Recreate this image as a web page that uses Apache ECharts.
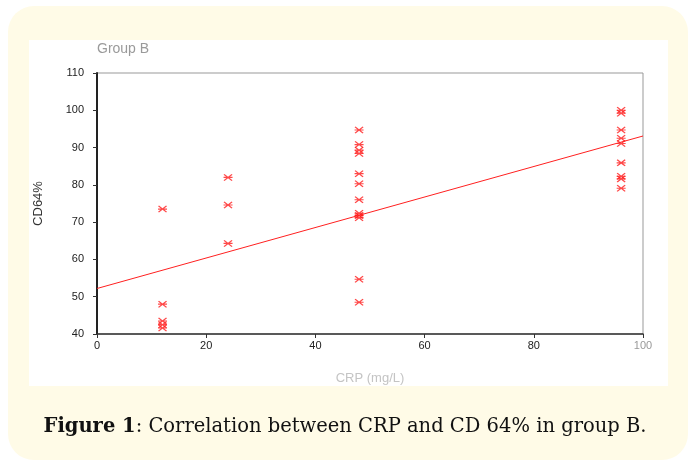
<!DOCTYPE html>
<html>
<head>
<meta charset="utf-8">
<script src="https://cdn.jsdelivr.net/npm/echarts@6/dist/echarts.min.js"></script>
<style>
  html, body { margin: 0; padding: 0; background: #fff; }
  #main { width: 690px; height: 461px; }
</style>
</head>
<body>
<div id="main"></div>
<script>
// CRP (mg/L) vs CD64% values
const crp = [12, 12, 12, 12, 12,
  24, 24, 24,
  48, 48, 48, 48, 48, 48, 48, 48, 48, 48, 48, 48,
  96, 96, 96, 96, 96, 96, 96, 96, 96];
const cd64 = [73.5, 48, 43.5, 42.5, 41.6,
  82, 74.6, 64.3,
  94.7, 90.8, 89.3, 88.4, 83, 80.3, 76, 72.4, 71.8, 71.2, 54.7, 48.5,
  100, 99.2, 94.7, 92.5, 91.1, 85.9, 82.3, 81.6, 79.1];
const fitX = [0, 100];
const fitY = [52.2, 93.1];

const points = crp.map((x, i) => [x, cd64[i]]);
const fitLine = fitX.map((x, i) => [x, fitY[i]]);

// asterisk: X plus a horizontal bar
const star = 'path://M0 4.2L10 4.2L10 5.8L0 5.8Z M1.1 0L5 3.9L8.9 0L10 1.1L6.1 5L10 8.9L8.9 10L5 6.1L1.1 10L0 8.9L3.9 5L0 1.1Z';

var myChart = echarts.init(document.getElementById('main'), null, {
  width: 690,
  height: 461,
});

let option = {
  animation: false,
  backgroundColor: '#fff',
  graphic: [
    {
      type: 'rect',
      z: -10,
      shape: { x: 8, y: 6, width: 680, height: 454, r: 26 },
      style: { fill: '#fffbe7' },
    },
    {
      type: 'rect',
      z: -9,
      shape: { x: 29, y: 40, width: 639, height: 346 },
      style: { fill: '#ffffff' },
    },
    {
      type: 'text',
      left: 97,
      top: 42,
      style: {
        text: 'Group B',
        fill: '#9a9a9a',
        font: '14px Arial, "Liberation Sans", sans-serif',
      },
    },
    {
      type: 'text',
      left: 'center',
      top: 417,
      style: {
        text: '{b|Figure 1}: Correlation between CRP and CD 64% in group B.',
        fill: '#111',
        font: '19.5px "DejaVu Serif", serif',
        rich: {
          b: {
            fontWeight: 'bold',
            fontSize: 19.5,
            fontFamily: '"DejaVu Serif", serif',
            fill: '#111',
          },
        },
      },
    },
  ],
  grid: {
    left: 97,
    right: 47,
    top: 73,
    bottom: 127,
    show: true,
    borderColor: '#999',
    borderWidth: 1,
  },
  xAxis: {
    type: 'value',
    min: 0,
    max: 100,
    interval: 20,
    name: 'CRP (mg/L)',
    nameLocation: 'middle',
    nameGap: 38,
    nameTextStyle: {
      color: '#c4c4c4',
      fontFamily: 'Arial, "Liberation Sans"',
      fontSize: 13,
    },
    axisLine: { show: true, onZero: false, lineStyle: { color: '#333', width: 1.5 } },
    axisTick: { show: true, length: 4, lineStyle: { color: '#333' } },
    axisLabel: {
      fontFamily: 'Arial, "Liberation Sans"',
      fontSize: 11,
      margin: 6,
      color: function (v) {
        return v == 100 ? '#999' : '#222';
      },
    },
    splitLine: { show: false },
  },
  yAxis: {
    type: 'value',
    min: 40,
    max: 110,
    interval: 10,
    name: 'CD64%',
    nameLocation: 'middle',
    nameGap: 52,
    nameTextStyle: {
      color: '#333',
      fontFamily: 'Arial, "Liberation Sans"',
      fontSize: 13,
    },
    axisLine: { show: true, onZero: false, lineStyle: { color: '#222', width: 2 } },
    axisTick: { show: true, length: 4, lineStyle: { color: '#333' } },
    axisLabel: {
      fontFamily: 'Arial, "Liberation Sans"',
      fontSize: 11,
      margin: 13,
      color: '#222',
    },
    splitLine: { show: false },
  },
  series: [
    {
      type: 'line',
      data: fitLine,
      symbol: 'none',
      lineStyle: { color: '#ff2020', width: 1 },
      silent: true,
    },
    {
      type: 'scatter',
      data: points,
      symbol: star,
      symbolSize: [9, 7],
      itemStyle: { color: '#ff1a1a' },
    },
  ],
};

myChart.setOption(option);
</script>
</body>
</html>
